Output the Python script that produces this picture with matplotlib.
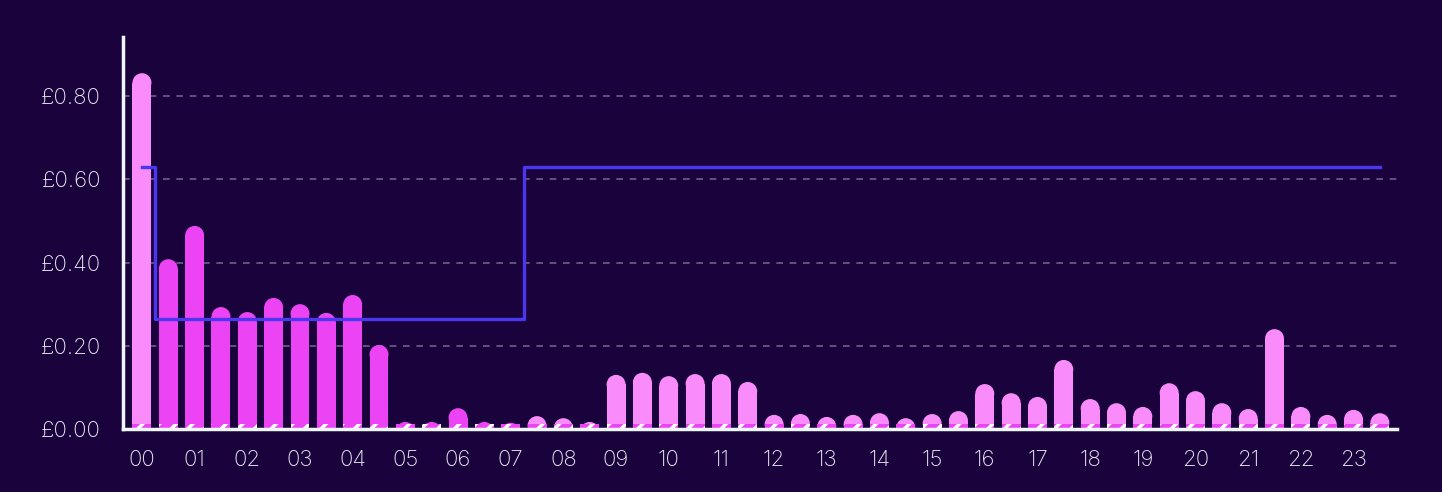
import matplotlib
matplotlib.use("Agg")
import matplotlib.pyplot as plt
from matplotlib.patches import Rectangle, Ellipse
import numpy as np

# Half-hourly cost (£) per slot, 48 slots starting 00:00
costs = [0.855, 0.408, 0.488, 0.293, 0.281, 0.315, 0.300, 0.279, 0.322, 0.202,
         0.017, 0.017, 0.050, 0.017, 0.015, 0.031, 0.026, 0.017, 0.130, 0.135,
         0.127, 0.132, 0.132, 0.113, 0.034, 0.036, 0.029, 0.034, 0.038, 0.026,
         0.036, 0.043, 0.108, 0.086, 0.077, 0.166, 0.072, 0.062, 0.053, 0.110,
         0.091, 0.062, 0.048, 0.240, 0.053, 0.034, 0.046, 0.038]
# off-peak flag per slot (1 = cheap rate period)
offpeak = [0] + [1] * 14 + [0] * 33
# unit rate per slot (£/kWh)
rates = [0.63] + [0.265] * 14 + [0.63] * 33
# small standing strip at base
base_strip = [0.013] * 48
hour_labels = ["%02d" % h for h in range(24)]
y_ticks = [0.0, 0.2, 0.4, 0.6, 0.8]

BG = "#1a033d"
MAG = "#ec44f5"
PINK = "#f98cfa"
LINE = "#4a38f0"
GRID = "#6d5f86"
TXT = "#ebe8f2"
AXC = "#eef6f8"

plt.rcParams['font.family'] = ['Inter', 'DejaVu Sans']
plt.rcParams['hatch.color'] = 'white'
plt.rcParams['hatch.linewidth'] = 2.5

fig = plt.figure(figsize=(14.42, 4.92), dpi=100, facecolor=BG)
ax = fig.add_axes([123 / 1442, 1 - 429 / 492, (1397 - 123) / 1442, (429 - 37) / 492])
ax.set_facecolor(BG)

n = len(costs)
x = np.arange(n)
ax.set_xlim(-0.72, n - 1 + 0.65)
ax.set_ylim(0, 0.942)

w = 0.72
# compute y-radius so the cap looks round in pixels
fig.canvas.draw()
bbox = ax.get_window_extent()
px_per_x = bbox.width / (ax.get_xlim()[1] - ax.get_xlim()[0])
px_per_y = bbox.height / (ax.get_ylim()[1] - ax.get_ylim()[0])
ry = (w / 2) * px_per_x / px_per_y

for gy in y_ticks[1:]:
    ax.axhline(gy, color=GRID, lw=1.2, ls=(0, (4, 4)), zorder=1)

for xi, h, op in zip(x, costs, offpeak):
    c = MAG if op else PINK
    body_h = max(h - ry, 0)
    ax.add_patch(Rectangle((xi - w / 2, 0), w, body_h, facecolor=c, edgecolor='none', zorder=2))
    ax.add_patch(Ellipse((xi, h - ry), w, 2 * ry, facecolor=c, edgecolor='none', zorder=2))

ax.bar(x, base_strip, width=w, color=MAG, edgecolor='white', linewidth=0, hatch='//', zorder=3)

ax.step(x, rates, where='mid', color=LINE, lw=2.4, zorder=4)

for s in ['top', 'right']:
    ax.spines[s].set_visible(False)
for s in ['left', 'bottom']:
    ax.spines[s].set_color(AXC)
    ax.spines[s].set_linewidth(2.5)
    ax.spines[s].set_zorder(5)

ax.set_yticks(y_ticks)
ax.set_yticklabels(["£%.2f" % v for v in y_ticks])
ax.set_xticks(x[::2])
ax.set_xticklabels(hour_labels)
ax.tick_params(axis='both', length=0, colors=TXT, labelsize=16)
ax.tick_params(axis='y', pad=16)
ax.tick_params(axis='x', pad=15)
for lab in ax.get_xticklabels() + ax.get_yticklabels():
    lab.set_fontweight('light')

fig.savefig("out.png", dpi=100, facecolor=BG)
